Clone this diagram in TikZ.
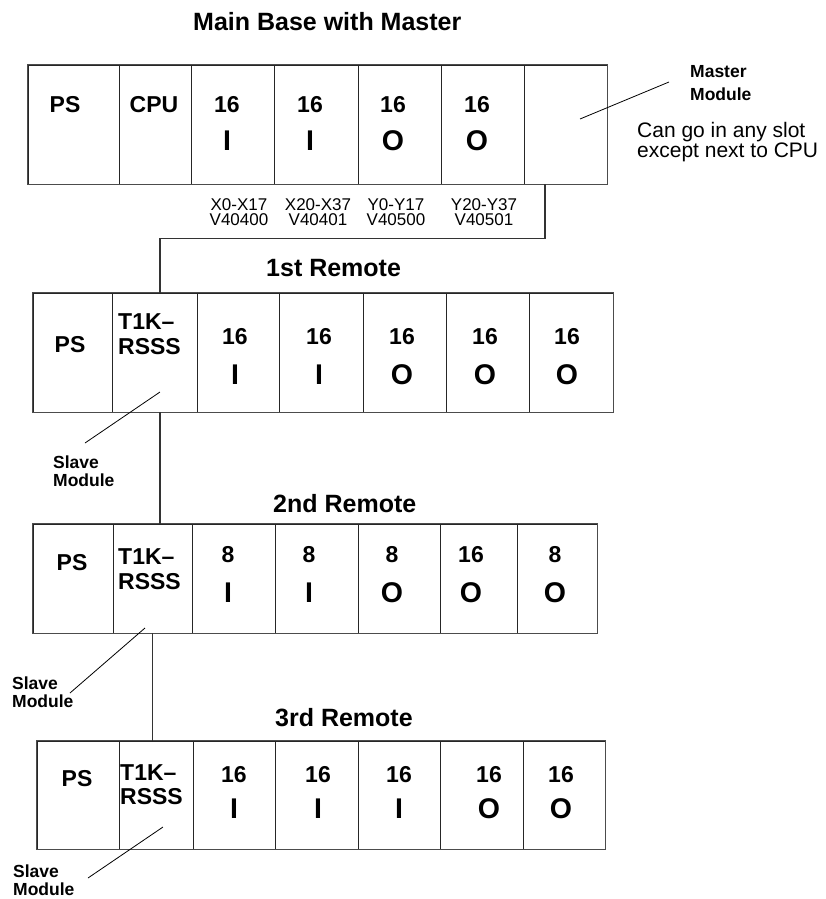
\documentclass[tikz,border=0pt]{standalone}
\usepackage{fontspec}
\setmainfont{Liberation Sans}
\usetikzlibrary{positioning}

\tikzset{
  slot/.style={draw=black!85, line width=0.9pt, inner sep=0pt, minimum width=#1pt},
  frame/.style={draw=black!70, line width=1.3pt},
  cnt/.style={font=\fontsize{23}{24}\selectfont\bfseries, inner sep=0pt},
  io/.style={font=\fontsize{28.5}{30}\selectfont\bfseries, inner sep=0pt},
  ttl/.style={font=\fontsize{25}{28}\selectfont\bfseries, inner sep=0pt, anchor=base west},
  note/.style={font=\fontsize{17.5}{17.5}\selectfont\bfseries, inner sep=0pt, align=left, anchor=north west},
  addr/.style={font=\fontsize{17}{15.5}\selectfont, inner sep=0pt, align=center, anchor=north},
  wire/.style={draw=black!80, line width=1.2pt},
  ptr/.style={line width=0.8pt}
}

\begin{document}
\begin{tikzpicture}[x=1pt,y=-1pt]
  \useasboundingbox (0,0) rectangle (825,899);

  % main base
  \node[ttl] (t0) at (193,31) {Main Base with Master};
  \foreach \x/\w/\tx/\n/\o [count=\i] in {73.5/91/65/PS/, 155/72/154/CPU/, 232.5/83/227/16/I,
      316/84/310/16/I, 399.5/83/393/16/O, 482.5/83/477/16/O, 565.5/83/565//} {
    \node[slot=\w, minimum height=119pt] (m\i) at (\x,124.5) {};
    \node[cnt] (m\i n) at (\tx,105) {\n};
    \node[io] (m\i o) at (\tx,141) {\o};
  }
  \draw[frame] (m1.north west) rectangle (m7.south east);
  \node[note, font=\fontsize{17.5}{23}\selectfont\bfseries] (mm) at (690,65) {Master\\Module};
  \node[note, font=\fontsize{21}{19}\selectfont] (mnote) at (637,122) {Can go in any slot\\except next to CPU};
  \draw[ptr] ([shift={(14.5pt,5.5pt)}]m7.center) -- ([shift={(-21pt,-17pt)}]mm.north west);
  \foreach \x/\a/\v [count=\i] in {239/X0-X17/V40400, 318/X20-X37/V40401, 396/Y0-Y17/V40500, 484/Y20-Y37/V40501}
    \node[addr] (ad\i) at (\x,198) {\a\\\v};

  % 1st remote
  \node[ttl] (t1) at (266,276) {1st Remote};
  \node[slot=79, minimum height=119pt] (a1) at (72.5,352.5) {};
  \node[cnt] (a1n) at (70,345) {PS};
  \node[slot=85, minimum height=119pt] (a2) at (154.5,352.5) {};
  \node[cnt, anchor=west] (a2n) at (118,322) {T1K–};
  \node[cnt, anchor=west] (a2o) at (118,347) {RSSS};
  \foreach \x/\w/\tx/\n/\o [count=\i from 3] in {238/82/235/16/I, 321/84/319/16/I, 404.5/83/402/16/O,
      487.5/83/485/16/O, 571/84/567/16/O} {
    \node[slot=\w, minimum height=119pt] (a\i) at (\x,352.5) {};
    \node[cnt] (a\i n) at (\tx,337) {\n};
    \node[io] (a\i o) at (\tx,375) {\o};
  }
  \draw[frame] (a1.north west) rectangle (a7.south east);
  \node[note] (sl1) at (53,456) {Slave\\Module};
  \draw[ptr] ([shift={(5.5pt,-39.5pt)}]a2.center) -- ([shift={(32pt,13pt)}]sl1.north west);

  % 2nd remote
  \node[ttl] (t2) at (273,512) {2nd Remote};
  \node[slot=80, minimum height=109pt] (b1) at (73,578.5) {};
  \node[cnt] (b1n) at (72,563) {PS};
  \node[slot=79, minimum height=109pt] (b2) at (152.5,578.5) {};
  \node[cnt, anchor=west] (b2n) at (118,557) {T1K–};
  \node[cnt, anchor=west] (b2o) at (118,582) {RSSS};
  \foreach \x/\w/\tx/\n/\o [count=\i from 3] in {233.5/83/228/8/I, 316.5/83/309/8/I, 399/82/392/8/O,
      478.5/77/471/16/O, 557/80/555/8/O} {
    \node[slot=\w, minimum height=109pt] (b\i) at (\x,578.5) {};
    \node[cnt] (b\i n) at (\tx,555) {\n};
    \node[io] (b\i o) at (\tx,593) {\o};
  }
  \draw[frame] (b1.north west) rectangle (b7.south east);
  \node[note] (sl2) at (12,677) {Slave\\Module};
  \draw[ptr] ([shift={(-7.5pt,-49.5pt)}]b2.center) -- ([shift={(58pt,-16pt)}]sl2.north west);

  % 3rd remote
  \node[ttl] (t3) at (275,726) {3rd Remote};
  \node[slot=82, minimum height=108pt] (c1) at (78,795) {};
  \node[cnt] (c1n) at (77,779) {PS};
  \node[slot=74, minimum height=108pt] (c2) at (156,795) {};
  \node[cnt, anchor=west] (c2n) at (120,773) {T1K–};
  \node[cnt, anchor=west] (c2o) at (120,797) {RSSS};
  \foreach \x/\w/\tx/\n/\o [count=\i from 3] in {234/82/234/16/I, 316.5/83/318/16/I, 399/82/399/16/I,
      481.5/83/489/16/O, 564/82/561/16/O} {
    \node[slot=\w, minimum height=108pt] (c\i) at (\x,795) {};
    \node[cnt] (c\i n) at (\tx,775) {\n};
    \node[io] (c\i o) at (\tx,809) {\o};
  }
  \draw[frame] (c1.north west) rectangle (c7.south east);
  \node[note] (sl3) at (13,865) {Slave\\Module};
  \draw[ptr] ([shift={(7pt,-32pt)}]c2.center) -- ([shift={(75pt,-13pt)}]sl3.north west);

  % links between bases
  \draw[wire] ([xshift=-20.5pt]m7.south) -- ++(0,54) -| ([xshift=5.5pt]a2.north);
  \draw[wire] ([xshift=5.5pt]a2.south) -- ++(0,112);
  \draw[wire] (b2.south) -- (b2.south |- c2.north);
\end{tikzpicture}
\end{document}
